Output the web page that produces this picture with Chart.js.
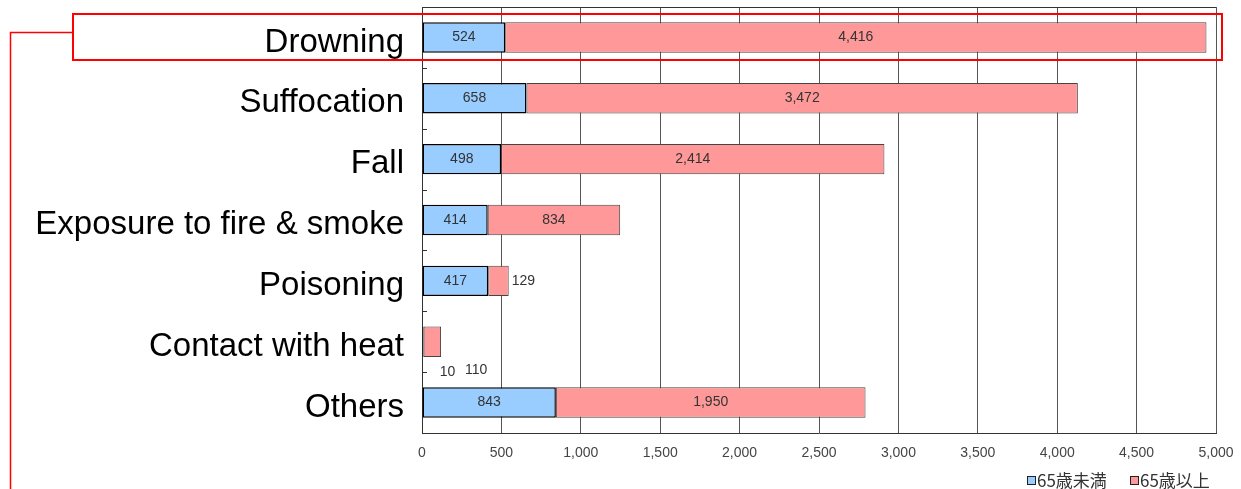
<!DOCTYPE html>
<html lang="en">
<head>
    <meta charset="UTF-8">
    <title>Accidental deaths by cause</title>
    <script src="https://cdn.jsdelivr.net/npm/chart.js"></script>
    <style>
        html, body { margin: 0; padding: 0; background: #fff; }
        #wrap { width: 1241px; height: 489px; position: relative; }
    </style>
</head>
<body>
<div id="wrap"><canvas id="deathChart"></canvas></div>
<script>
// categories and values
const causes = ['Drowning', 'Suffocation', 'Fall', 'Exposure to fire & smoke', 'Poisoning', 'Contact with heat', 'Others'];
const under65 = [524, 658, 498, 414, 417, 10, 843];
const over65 = [4416, 3472, 2414, 834, 129, 110, 1950];
const seriesNames = ['65歳未満', '65歳以上'];
const seriesColors = ['#99ccff', '#ff9999'];
const xTicks = [0, 500, 1000, 1500, 2000, 2500, 3000, 3500, 4000, 4500, 5000];

const fmt = v => v.toLocaleString('en-US');

// small marks at category boundaries, top border, value labels, legend, red highlight box
const extras = {
    id: 'extras',
    afterDatasetsDraw(chart) {
        const ctx = chart.ctx;
        const area = chart.chartArea;
        const y = chart.scales.y;
        ctx.save();
        // top border of plot
        ctx.strokeStyle = '#333';
        ctx.lineWidth = 1;
        ctx.beginPath();
        ctx.moveTo(area.left, area.top + 0.5);
        ctx.lineTo(area.right, area.top + 0.5);
        ctx.stroke();
        // tick marks between categories
        for (let i = 0; i < causes.length; i++) {
            const py = Math.round(y.getPixelForValue(i + 0.5)) + 0.5;
            ctx.beginPath();
            ctx.moveTo(area.left, py);
            ctx.lineTo(area.left + 5, py);
            ctx.stroke();
        }

        // value labels
        const m0 = chart.getDatasetMeta(0).data;
        const m1 = chart.getDatasetMeta(1).data;
        ctx.font = '14px "Liberation Sans", Arial, sans-serif';
        ctx.fillStyle = '#333';
        ctx.textBaseline = 'middle';
        ctx.textAlign = 'center';
        for (let i = 0; i < causes.length; i++) {
            const b = m0[i], r = m1[i];
            const bw = b.x - b.base, rw = r.x - r.base;
            if (bw < 20) {
                // both tiny: put labels under the bar
                const ly = b.y + b.height / 2 + 15;
                ctx.fillText(fmt(under65[i]), b.x + 24, ly);
                ctx.fillText(fmt(over65[i]), r.x + 35, ly - 2);
                continue;
            }
            ctx.fillText(fmt(under65[i]), (b.x + b.base) / 2, b.y);
            if (rw < 50) {
                ctx.textAlign = 'left';
                ctx.fillText(fmt(over65[i]), r.x + 3, r.y);
                ctx.textAlign = 'center';
            } else {
                ctx.fillText(fmt(over65[i]), (r.x + r.base) / 2, r.y);
            }
        }

        // legend, bottom right
        ctx.font = '17px "Noto Sans CJK JP", sans-serif';
        ctx.textAlign = 'left';
        let lx = 1027;
        const ly = 481;
        for (let k = 0; k < seriesNames.length; k++) {
            ctx.fillStyle = seriesColors[k];
            ctx.fillRect(lx, ly - 5, 9, 9);
            ctx.strokeStyle = '#222';
            ctx.lineWidth = 1;
            ctx.strokeRect(lx + 0.5, ly - 4.5, 8, 8);
            ctx.fillStyle = '#333';
            ctx.fillText(seriesNames[k], lx + 10, ly);
            lx += 103;
        }

        // red highlight around the first row
        ctx.strokeStyle = '#ff0000';
        ctx.lineWidth = 2;
        ctx.strokeRect(73, 14, 1149, 46);
        ctx.lineWidth = 1.5;
        ctx.beginPath();
        ctx.moveTo(73, 32.5);
        ctx.lineTo(10.5, 32.5);
        ctx.lineTo(10.5, 489);
        ctx.stroke();
        ctx.restore();
    }
};

new Chart(document.getElementById('deathChart'), {
    type: 'bar',
    data: {
        labels: causes,
        datasets: [{
            label: seriesNames[0],
            data: under65,
            backgroundColor: seriesColors[0],
            borderColor: '#000',
            borderWidth: 1.5,
            borderSkipped: false
        }, {
            label: seriesNames[1],
            data: over65,
            backgroundColor: seriesColors[1],
            borderColor: '#444',
            borderWidth: 1,
            borderSkipped: false
        }]
    },
    options: {
        indexAxis: 'y',
        responsive: true,
        maintainAspectRatio: false,
        animation: false,
        layout: { padding: { top: 7, right: 25, left: 0, bottom: 0 } },
        datasets: { bar: { barPercentage: 0.5, categoryPercentage: 1 } },
        scales: {
            x: {
                stacked: true,
                min: 0,
                max: 5000,
                afterBuildTicks: s => { s.ticks = xTicks.map(v => ({ value: v })); },
                afterFit: s => { s.height = 56; s.paddingLeft = 0; s.paddingRight = 0; },
                grid: { color: '#555', lineWidth: 1, drawTicks: false },
                border: { color: '#333', width: 1 },
                ticks: {
                    padding: 12,
                    color: '#444',
                    font: { family: '"Liberation Sans", Arial, sans-serif', size: 14 },
                    callback: v => fmt(v)
                }
            },
            y: {
                stacked: true,
                afterFit: s => { s.width = 422; s.paddingTop = 0; s.paddingBottom = 0; },
                grid: { display: false, drawTicks: false },
                border: { color: '#333', width: 1 },
                ticks: {
                    padding: 18,
                    labelOffset: 5,
                    color: '#000',
                    font: { family: '"Liberation Sans", Arial, sans-serif', size: 33 }
                }
            }
        },
        plugins: {
            legend: { display: false },
            tooltip: { enabled: false }
        }
    },
    plugins: [extras]
});
</script>
</body>
</html>
